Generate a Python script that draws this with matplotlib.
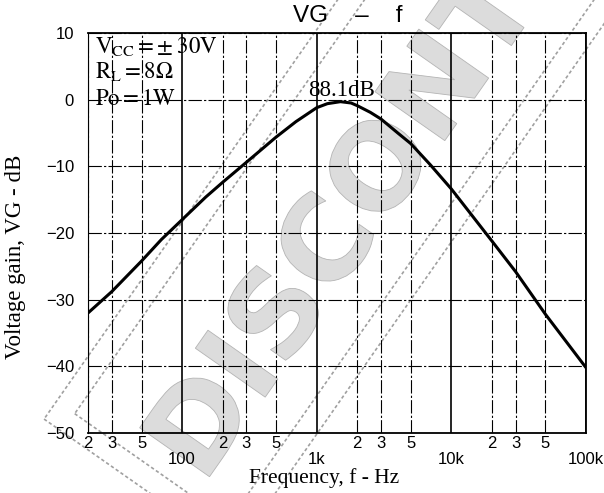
import numpy as np
import matplotlib.pyplot as plt
from matplotlib.textpath import TextPath
from matplotlib.patches import PathPatch
from matplotlib.font_manager import FontProperties
from matplotlib.transforms import Affine2D, IdentityTransform
from matplotlib.lines import Line2D

plt.rcParams['mathtext.fontset'] = 'stix'

# values
freq_hz = [20, 30, 50, 70, 100, 150, 200, 300, 500, 700, 1000, 1200, 1500,
           1800, 2000, 2500, 3000, 4000, 5000, 7000, 10000, 20000, 30000,
           50000, 100000]
gain_db = [-32.0, -28.8, -24.2, -21.0, -18.0, -14.6, -12.4, -9.4, -5.6, -3.3,
           -1.2, -0.6, -0.3, -0.5, -0.9, -1.9, -2.9, -5.0, -6.6, -9.8, -13.4,
           -21.2, -25.8, -32.2, -40.2]

decade_ticks = [100, 1000, 10000, 100000]
decade_labels = ['100', '1k', '10k', '100k']
sub_ticks = [20, 30, 50, 200, 300, 500, 2000, 3000, 5000, 20000, 30000, 50000]
sub_labels = ['2', '3', '5'] * 4
gain_ticks = [-50, -40, -30, -20, -10, 0, 10]
conditions = [r'$\mathrm{V_{CC}=\pm\;30V}$', r'$\mathrm{R_L=8\Omega}$',
              r'$\mathrm{Po=1W}$']
peak_label = '88.1dB'

fig = plt.figure(figsize=(6.04, 4.93), dpi=100)
ax = fig.add_axes([88 / 604, 1 - 433 / 493, 498 / 604, 400 / 493])
ax.set_facecolor('none')
ax.set_zorder(1)

ax.plot(freq_hz, gain_db, color='black', lw=2.2, solid_capstyle='round')
ax.set_xscale('log')
ax.set_xlim(20, 100000)
ax.set_ylim(-50, 10)

ax.set_xticks(decade_ticks, decade_labels)
ax.set_xticks(sub_ticks, sub_labels, minor=True)
ax.set_yticks(gain_ticks)

dashdot = (0, (12, 2, 2, 2))
ax.grid(which='major', axis='x', color='black', lw=1.2, ls='-')
ax.grid(which='minor', axis='x', color='black', lw=0.8, ls=dashdot)
ax.grid(which='major', axis='y', color='black', lw=0.8, ls=dashdot)

ax.tick_params(axis='x', which='major', length=0, pad=14, labelsize=12)
ax.tick_params(axis='x', which='minor', length=0, pad=2, labelsize=12)
ax.tick_params(axis='y', length=0, pad=10, labelsize=12)
for lab in ax.get_xticklabels(minor=True) + ax.get_xticklabels() + ax.get_yticklabels():
    lab.set_family('Liberation Sans')

for s in ax.spines.values():
    s.set_linewidth(1.3)
ax.spines['left'].set_linewidth(0.8)

for i, txt in enumerate(conditions):
    ax.text(0.014, 0.965 - i * 0.064, txt, transform=ax.transAxes,
            fontsize=16.5, ha='left', va='center')

k = int(np.argmax(gain_db))
ax.annotate(peak_label, (freq_hz[k], gain_db[k]), xytext=(1, 8),
            textcoords='offset points', ha='center', va='center',
            fontsize=16.5, family='Liberation Serif')

fig.text(0.575, 0.967, 'VG    \u2013    f', fontsize=17.5, ha='center',
         va='center', family='Liberation Sans')
fig.text(0.536, 1 - 478 / 493, 'Frequency, f - Hz', fontsize=15.5,
         ha='center', va='center', family='Liberation Serif')
fig.text(0.025, 1 - 257 / 493, 'Voltage gain, VG - dB', fontsize=16.5,
         rotation=90, ha='center', va='center', family='Liberation Serif')

# "DISCONTINUED" stamp behind the chart
ang = 55
u = np.array([np.cos(np.radians(ang)), np.sin(np.radians(ang))])
n = np.array([u[1], -u[0]])
centre = np.array([457.0, 444.0])
fp = FontProperties(family='DejaVu Sans', weight='bold')
tp = TextPath((0, 0), 'DISCONTINUED', size=117, prop=fp)
bb = tp.get_extents()
tr = (Affine2D().translate(-(bb.x0 + bb.x1) / 2, -(bb.y0 + bb.y1) / 2)
      .rotate_deg(ang).translate(*centre))
stamp = PathPatch(tr.transform_path(tp), facecolor='#dcdcdc',
                  edgecolor='#b4b4b4', lw=0.6, transform=IdentityTransform(),
                  zorder=0.5)
fig.add_artist(stamp)

c = centre - 10 * n
for half_len, half_w in [(540, 116), (518, 94)]:
    pts = [c - half_len * u - half_w * n, c - half_len * u + half_w * n,
           c + half_len * u + half_w * n, c + half_len * u - half_w * n]
    pts.append(pts[0])
    xs, ys = zip(*pts)
    fig.add_artist(Line2D(xs, ys, color='#a0a0a0', lw=1.2, ls=(0, (2, 1.5)),
                          transform=IdentityTransform(), zorder=0.5))

fig.savefig('out.png', dpi=100)
